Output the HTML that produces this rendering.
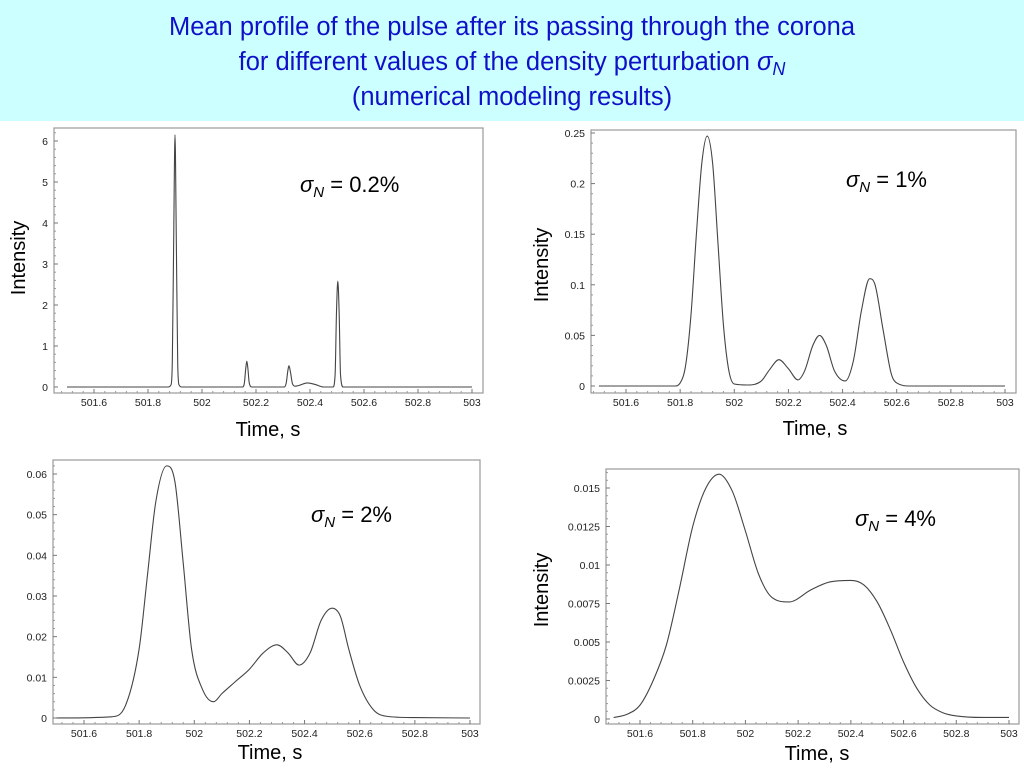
<!DOCTYPE html>
<html><head><meta charset="utf-8"><style>
body{margin:0;width:1024px;height:768px;background:#fff;overflow:hidden;font-family:"Liberation Sans",sans-serif}
#title{position:absolute;left:0;top:0;width:1024px;height:121px;background:#ccffff;color:#1010c8;font-size:25.5px;text-align:center;line-height:35px;padding-top:10px;box-sizing:border-box}
#title sub{font-size:18px;line-height:0;vertical-align:-5px}
svg{position:absolute;left:0;top:0}
</style></head><body>
<div id="title">Mean profile of the pulse after its passing through the corona<br>for different values of the density perturbation <i>σ<sub>N</sub></i><br>(numerical modeling results)</div>
<svg id="chart" width="1024" height="768"></svg>
<script>
const xTicks=[501.6,501.8,502,502.2,502.4,502.6,502.8,503];
const xTickLabels=["501.6","501.8","502","502.2","502.4","502.6","502.8","503"];
const t1=[501.5,501.875,501.885,501.89,501.895,501.9,501.905,501.91,501.915,501.925,502.15,502.157,502.162,502.166,502.17,502.175,502.185,502.305,502.312,502.318,502.322,502.328,502.335,502.345,502.36,502.39,502.42,502.45,502.485,502.493,502.498,502.503,502.508,502.513,502.523,503];
const v1=[0,0,0.05,0.6,3.5,6.15,3.5,0.6,0.05,0,0,0.1,0.45,0.63,0.45,0.1,0,0,0.1,0.4,0.52,0.35,0.08,0.02,0.04,0.1,0.06,0,0,0.3,1.8,2.58,1.8,0.3,0,0];
const yTicks1=[0,1,2,3,4,5,6];
const yLabels1=["0","1","2","3","4","5","6"];
const t2=[501.5,501.78,501.8,501.82,501.84,501.86,501.88,501.9,501.92,501.94,501.96,501.98,502.0,502.05,502.1,502.13,502.165,502.2,502.235,502.26,502.29,502.315,502.34,502.37,502.41,502.44,502.47,502.5,502.52,502.55,502.58,502.6,502.65,503];
const v2=[0,0,0.003,0.02,0.07,0.15,0.22,0.247,0.22,0.14,0.06,0.015,0.002,0.001,0.005,0.016,0.026,0.017,0.006,0.015,0.04,0.05,0.04,0.015,0.005,0.025,0.075,0.106,0.1,0.055,0.012,0.003,0,0];
const yTicks2=[0,0.05,0.1,0.15,0.2,0.25];
const yLabels2=["0","0.05","0.1","0.15","0.2","0.25"];
const t3=[501.5,501.7,501.75,501.8,501.83,501.86,501.9,501.93,501.96,501.99,502.03,502.07,502.1,502.15,502.2,502.25,502.3,502.34,502.38,502.42,502.46,502.5,502.53,502.56,502.6,502.65,502.7,502.8,503];
const v3=[0,0.0003,0.003,0.017,0.035,0.053,0.062,0.058,0.038,0.017,0.007,0.004,0.006,0.009,0.012,0.016,0.018,0.016,0.013,0.016,0.024,0.027,0.025,0.017,0.008,0.002,0.0004,0.0001,0];
const yTicks3=[0,0.01,0.02,0.03,0.04,0.05,0.06];
const yLabels3=["0","0.01","0.02","0.03","0.04","0.05","0.06"];
const t4=[501.5,501.55,501.6,501.65,501.7,501.75,501.8,501.85,501.9,501.95,502.0,502.05,502.1,502.165,502.25,502.32,502.4,502.45,502.5,502.55,502.6,502.65,502.7,502.75,502.8,502.9,503];
const v4=[0.0001,0.0003,0.0009,0.0025,0.0048,0.0085,0.0125,0.015,0.0159,0.0148,0.0122,0.0094,0.0079,0.0076,0.0084,0.0089,0.009,0.0087,0.0076,0.0058,0.0037,0.002,0.0009,0.0004,0.0002,0.0001,0.0001];
const yTicks4=[0,0.0025,0.005,0.0075,0.01,0.0125,0.015];
const yLabels4=["0","0.0025","0.005","0.0075","0.01","0.0125","0.015"];

const NS="http://www.w3.org/2000/svg";
const svg=document.getElementById('chart');
function mk(tag,attrs,parent){const e=document.createElementNS(NS,tag);for(const k in attrs)e.setAttribute(k,attrs[k]);(parent||svg).appendChild(e);return e;}
// monotone cubic path through pixel points
function monoPath(xs,ys){
 const n=xs.length,dx=[],m=[],tg=[];
 for(let i=0;i<n-1;i++){dx[i]=xs[i+1]-xs[i];m[i]=(ys[i+1]-ys[i])/dx[i];}
 tg[0]=m[0];tg[n-1]=m[n-2];
 for(let i=1;i<n-1;i++){tg[i]=(m[i-1]*m[i]<=0)?0:(m[i-1]+m[i])/2;}
 for(let i=0;i<n-1;i++){if(m[i]===0){tg[i]=0;tg[i+1]=0;continue;}
  const a=tg[i]/m[i],b=tg[i+1]/m[i],s=a*a+b*b;if(s>9){const t=3/Math.sqrt(s);tg[i]=t*a*m[i];tg[i+1]=t*b*m[i];}}
 let d='M'+xs[0].toFixed(1)+','+ys[0].toFixed(1);
 for(let i=0;i<n-1;i++){const h=dx[i]/3;
  d+='C'+(xs[i]+h).toFixed(2)+','+(ys[i]+tg[i]*h).toFixed(2)+' '+(xs[i+1]-h).toFixed(2)+','+(ys[i+1]-tg[i+1]*h).toFixed(2)+' '+xs[i+1].toFixed(2)+','+ys[i+1].toFixed(2);}
 return d;
}
const panels=[
 {fx0:54,fx1:483,fy0:128,fy1:393,xa:501.6,xpa:94,xb:503,xpb:472,ya:0,ypa:387,yb:6,ypb:141,t:t1,v:v1,yt:yTicks1,yl:yLabels1,ylab:[18,258],tlab:[268,436],sig:[300,192,"= 0.2%"]},
 {fx0:591,fx1:1016,fy0:130,fy1:393,xa:501.6,xpa:626,xb:503,xpb:1005,ya:0,ypa:386,yb:0.25,ypb:133,t:t2,v:v2,yt:yTicks2,yl:yLabels2,ylab:[541,265],tlab:[815,435],sig:[846,187,"= 1%"]},
 {fx0:53,fx1:480,fy0:460,fy1:724,xa:501.6,xpa:84,xb:503,xpb:470,ya:0,ypa:718,yb:0.06,ypb:474,t:t3,v:v3,yt:yTicks3,yl:yLabels3,ylab:null,tlab:[270,759],sig:[311,522,"= 2%"]},
 {fx0:606,fx1:1019,fy0:469,fy1:724,xa:501.6,xpa:640,xb:503,xpb:1009,ya:0,ypa:719,yb:0.015,ypb:488,t:t4,v:v4,yt:yTicks4,yl:yLabels4,ylab:[541,590],tlab:[817,760],sig:[855,526,"= 4%"]}
];
panels.forEach((p,i)=>{
 const g=mk('g',{});
 
 
 const X=t=>p.xpa+(t-p.xa)*(p.xpb-p.xpa)/(p.xb-p.xa);
 const Y=v=>p.ypa+(v-p.ya)*(p.ypb-p.ypa)/(p.yb-p.ya);
 const fr=mk('rect',{x:p.fx0,y:p.fy0,width:p.fx1-p.fx0,height:p.fy1-p.fy0,fill:'#fff',stroke:'#999','stroke-width':1.2},g);
 
 
 xTicks.forEach((t,j)=>{
  const x=X(t);
  mk('line',{x1:x,y1:p.fy1,x2:x,y2:p.fy1-4,stroke:'#777'},g);
  const tx=mk('text',{x:x,y:p.fy1+13,'font-size':10.5,'text-anchor':'middle',fill:'#222'},g);
  tx.textContent=xTickLabels[j];
  
  
  for(let k=1;k<5;k++){const xm=X(t-0.04*k);if(xm>p.fx0)mk('line',{x1:xm,y1:p.fy1,x2:xm,y2:p.fy1-2,stroke:'#999'},g);}
 });
 const step=p.yt[1]-p.yt[0];
 p.yt.forEach((v,j)=>{
  const y=Y(v);
  mk('line',{x1:p.fx0,y1:y,x2:p.fx0+4,y2:y,stroke:'#777'},g);
  const tx=mk('text',{x:p.fx0-6,y:y+4,'font-size':10.5,'text-anchor':'end',fill:'#222'},g);
  tx.textContent=p.yl[j];
  
  
  for(let k=1;k<5;k++){const ym=Y(v+step*k/5);if(ym>p.fy0)mk('line',{x1:p.fx0,y1:ym,x2:p.fx0+2,y2:ym,stroke:'#999'},g);}
 });
 const path=mk('path',{d:monoPath(p.t.map(X),p.v.map(Y)),fill:'none',stroke:'#444','stroke-width':1.1,'stroke-linejoin':'round'},g);
 
 
 if(p.ylab){
  const yl=mk('text',{x:p.ylab[0],y:p.ylab[1],'font-size':20,'text-anchor':'middle',transform:'rotate(-90 '+p.ylab[0]+' '+p.ylab[1]+')',dy:7},g);
  yl.textContent='Intensity';
  
  
 }
 const tl=mk('text',{x:p.tlab[0],y:p.tlab[1],'font-size':20,'text-anchor':'middle'},g);
 tl.textContent='Time, s';
 
 
 const sg=mk('text',{x:p.sig[0],y:p.sig[1],'font-size':22},g);
 
 
 const a=mk('tspan',{'font-style':'italic'},sg);a.textContent='σ';
 const b=mk('tspan',{'font-style':'italic','font-size':15,dy:5},sg);b.textContent='N';
 const c=mk('tspan',{dy:-5},sg);c.textContent=' '+p.sig[2];
});
</script>
</body></html>
